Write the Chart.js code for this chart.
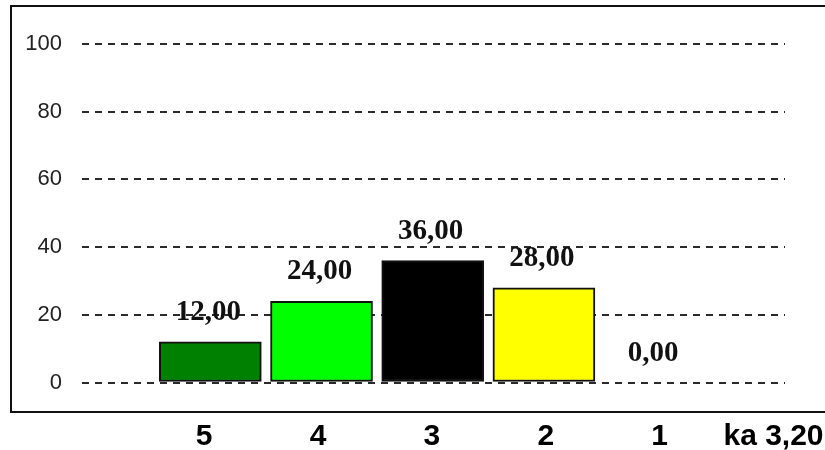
<!DOCTYPE html>
<html>
<head>
<meta charset="utf-8">
<script src="https://cdn.jsdelivr.net/npm/chart.js@4/dist/chart.umd.min.js"></script>
<style>
  html, body { margin: 0; padding: 0; background: #ffffff; }
  #wrap { width: 825px; height: 450px; position: relative; }
  canvas { display: block; }
</style>
</head>
<body>
<div id="wrap"><canvas id="c" width="825" height="450"></canvas></div>
<script>
// ---- data ----
const categories = ['5', '4', '3', '2', '1', 'ka 3,20'];
const values = [12.00, 24.00, 36.00, 28.00, 0.00];
const yTickValues = [0, 20, 40, 60, 80, 100];

// ---- styles ----
const barColors = ['#008000', '#00ff00', '#000000', '#ffff00', '#ff0000'];

const framePlugin = {
  id: 'frame',
  beforeDraw(chart) {
    const ctx = chart.ctx;
    ctx.save();
    ctx.fillStyle = '#ffffff';
    ctx.fillRect(0, 0, chart.width, chart.height);
    ctx.strokeStyle = '#111111';
    ctx.lineWidth = 2;
    ctx.beginPath();
    ctx.moveTo(chart.width, 6);
    ctx.lineTo(11, 6);
    ctx.lineTo(11, 412);
    ctx.lineTo(chart.width, 412);
    ctx.stroke();
    ctx.restore();
  }
};

const valueLabelPlugin = {
  id: 'valueLabels',
  afterDatasetsDraw(chart) {
    const ctx = chart.ctx;
    const meta = chart.getDatasetMeta(0);
    ctx.save();
    ctx.font = 'bold 29px "Liberation Serif", "Times New Roman", serif';
    ctx.fillStyle = '#111111';
    ctx.textAlign = 'center';
    ctx.textBaseline = 'alphabetic';
    meta.data.forEach((bar, i) => {
      const txt = values[i].toFixed(2).replace('.', ',');
      ctx.fillText(txt, bar.x - 2, bar.y - 22);
    });
    ctx.restore();
  }
};

function noSidePadding(scale) {
  scale.paddingLeft = 0;
  scale.paddingRight = 0;
}

new Chart(document.getElementById('c'), {
  type: 'bar',
  data: {
    datasets: [{
      data: values.map((v, i) => ({ x: i, y: v })),
      backgroundColor: barColors,
      borderColor: '#111111',
      borderWidth: 2,
      borderSkipped: false,
      barThickness: 102,
      xAxisID: 'x',
      yAxisID: 'y'
    }]
  },
  options: {
    responsive: false,
    animation: false,
    events: [],
    layout: { padding: { left: 0, right: 40, top: 44, bottom: 0 } },
    plugins: { legend: { display: false }, tooltip: { enabled: false } },
    scales: {
      x: {
        type: 'linear',
        display: false,
        offset: false,
        bounds: 'data',
        min: -1.154,
        max: 5.168
      },
      xl: {
        type: 'linear',
        position: 'bottom',
        offset: false,
        bounds: 'data',
        min: -1.073,
        max: 5.101,
        grid: { display: false, drawTicks: false },
        border: { display: false },
        afterBuildTicks(scale) {
          scale.ticks = categories.map((_, i) => ({ value: i }));
        },
        afterFit(scale) { scale.height = 67.5; noSidePadding(scale); },
        ticks: {
          autoSkip: false,
          maxRotation: 0,
          padding: 36,
          color: '#000000',
          font: { family: '"Liberation Sans", Arial, sans-serif', size: 30, weight: 'bold' },
          callback(value) { return categories[value]; }
        }
      },
      y: {
        type: 'linear',
        position: 'left',
        min: 0,
        max: 100,
        afterBuildTicks(scale) {
          scale.ticks = yTickValues.map(v => ({ value: v }));
        },
        afterFit(scale) { scale.width = 82; },
        grid: { color: '#2a2a2a', lineWidth: 2, drawTicks: false },
        border: { display: false, dash: [7, 6] },
        ticks: {
          padding: 20,
          color: '#222222',
          font: { family: '"Liberation Sans", Arial, sans-serif', size: 22 }
        }
      }
    }
  },
  plugins: [framePlugin, valueLabelPlugin]
});
</script>
</body>
</html>
